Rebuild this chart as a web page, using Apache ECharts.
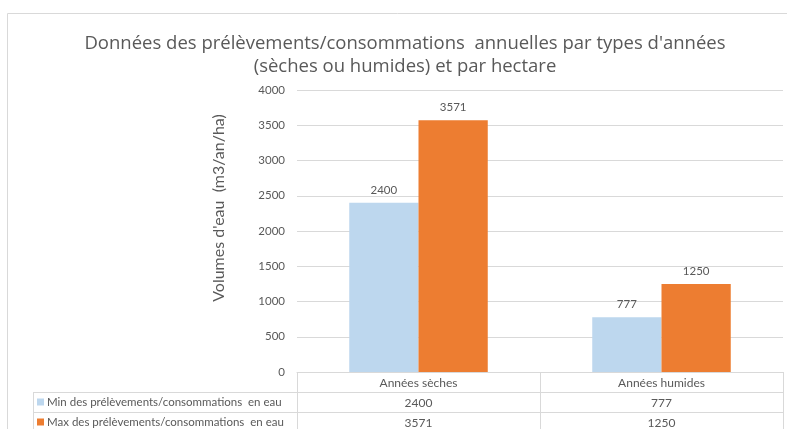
<!DOCTYPE html>
<html>
<head>
<meta charset="utf-8">
<script src="https://cdn.jsdelivr.net/npm/echarts@6/dist/echarts.min.js"></script>
<style>html,body{margin:0;padding:0;background:#fff}#c{width:787px;height:429px}</style>
</head>
<body>
<div id="c"></div>
<script>
const categories = ['Années sèches', 'Années humides'];
const seriesNames = ['Min des prélèvements/consommations  en eau', 'Max des prélèvements/consommations  en eau'];
const minValues = [2400, 777];
const maxValues = [3571, 1250];
const yTicks = [0, 500, 1000, 1500, 2000, 2500, 3000, 3500, 4000];

const FONT = 'Lato';
const GRAY = '#595959';
const LINE = '#d9d9d9';

const chart = echarts.init(document.getElementById('c'));
chart.setOption({
  animation: false,
  textStyle: { fontFamily: FONT },
  title: {
    text: 'Données des prélèvements/consommations  annuelles par types d\'années\n(sèches ou humides) et par hectare',
    left: 400, top: 27, textAlign: 'center',
    textStyle: { fontFamily: 'Open Sans', fontSize: 18.5, fontWeight: 'normal', color: GRAY, lineHeight: 23 }
  },
  legend: {
    orient: 'vertical', left: 37, top: 396, itemGap: 8, padding: 0, height: 80,
    itemWidth: 7, itemHeight: 7, icon: 'rect',
    textStyle: { fontFamily: FONT, fontSize: 11.5, color: GRAY, lineHeight: 12, padding: [0, 0, 0, -2] },
    data: seriesNames
  },
  grid: { left: 297, right: 4, top: 90, bottom: 57, containLabel: false },
  xAxis: [
    {
      type: 'category', data: categories, position: 'bottom',
      axisLine: { show: true, lineStyle: { color: LINE } },
      axisTick: { show: true, length: 60, interval: 0, lineStyle: { color: LINE } },
      axisLabel: { margin: 5, interval: 0, color: GRAY, fontSize: 12, fontFamily: FONT }
    },
    {
      type: 'category', data: categories, position: 'bottom', offset: 20,
      axisLine: { show: false }, axisTick: { show: false },
      axisLabel: { margin: 5, interval: 0, color: GRAY, fontSize: 12, fontFamily: FONT,
        formatter: (v, i) => String(minValues[i]) }
    },
    {
      type: 'category', data: categories, position: 'bottom', offset: 40,
      axisLine: { show: false }, axisTick: { show: false },
      axisLabel: { margin: 5, interval: 0, color: GRAY, fontSize: 12, fontFamily: FONT,
        formatter: (v, i) => String(maxValues[i]) }
    }
  ],
  yAxis: {
    type: 'value', min: yTicks[0], max: yTicks[yTicks.length - 1], interval: 500,
    name: 'Volumes d\'eau  (m3/an/ha)', nameLocation: 'middle', nameGap: 70, nameRotate: 90,
    nameTextStyle: { fontFamily: FONT, fontSize: 16, color: GRAY, padding: [0, 0, 0, 46] },
    axisLine: { show: false }, axisTick: { show: false },
    axisLabel: { margin: 12, color: GRAY, fontSize: 11.5, fontFamily: FONT, formatter: v => String(v) },
    splitLine: { lineStyle: { color: LINE } }
  },
  series: [
    {
      name: seriesNames[0], type: 'bar', data: minValues, xAxisIndex: 0,
      barCategoryGap: '43%', barGap: '0%',
      itemStyle: { color: '#BDD7EE' },
      label: { show: true, position: 'top', distance: 7, color: GRAY, fontSize: 11.5, fontFamily: FONT }
    },
    {
      name: seriesNames[1], type: 'bar', data: maxValues, xAxisIndex: 0,
      barCategoryGap: '43%', barGap: '0%',
      itemStyle: { color: '#ED7D31' },
      label: { show: true, position: 'top', distance: 7, color: GRAY, fontSize: 11.5, fontFamily: FONT }
    }
  ],
  graphic: [
    { type: 'rect', shape: { x: 7.5, y: 13.5, width: 800, height: 450 }, style: { fill: null, stroke: LINE, lineWidth: 1 }, silent: true, z: -1 },
    { type: 'line', shape: { x1: 33, y1: 392.5, x2: 783, y2: 392.5 }, style: { stroke: LINE, lineWidth: 1 }, silent: true },
    { type: 'line', shape: { x1: 33, y1: 412.5, x2: 783, y2: 412.5 }, style: { stroke: LINE, lineWidth: 1 }, silent: true },
    { type: 'line', shape: { x1: 33.5, y1: 392, x2: 33.5, y2: 432 }, style: { stroke: LINE, lineWidth: 1 }, silent: true }
  ]
});
</script>
</body>
</html>
